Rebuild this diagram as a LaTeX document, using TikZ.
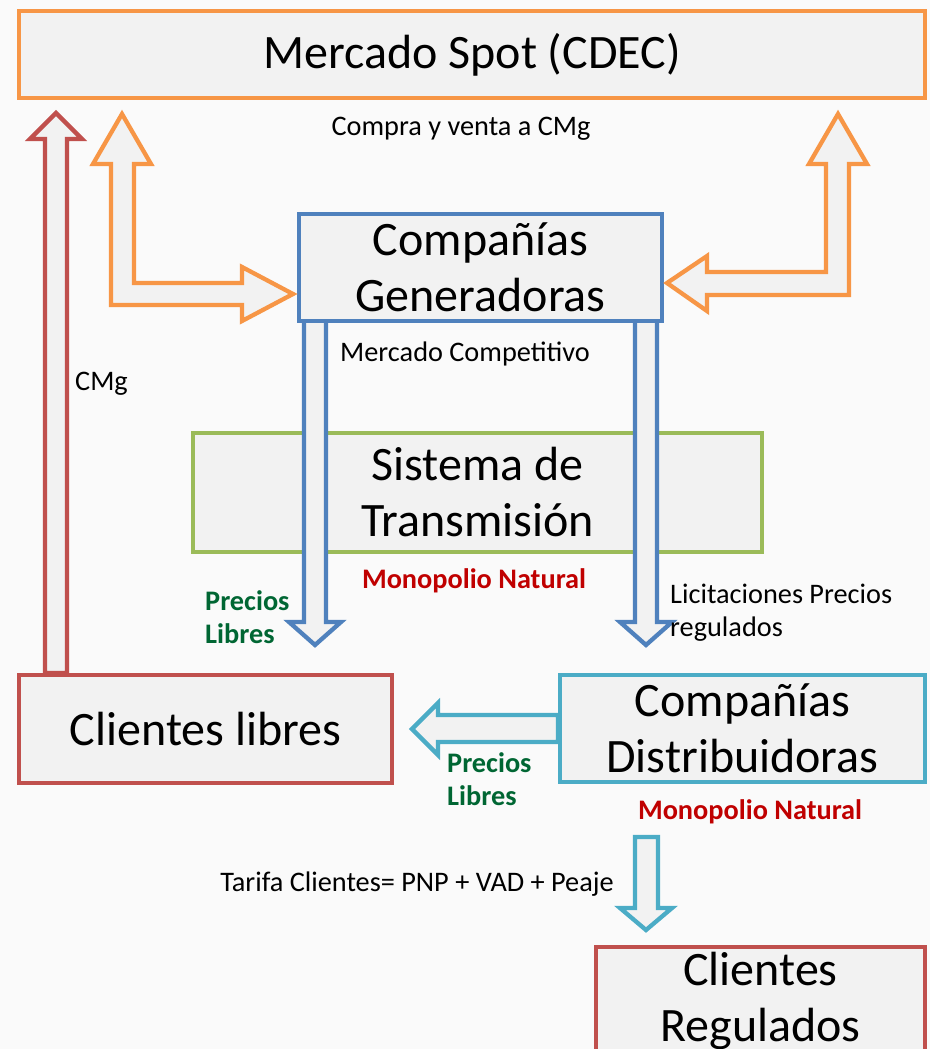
\documentclass[tikz,border=0pt]{standalone}
\usepackage{fontspec}
\setmainfont{Carlito}
\usetikzlibrary{positioning}
\definecolor{spotorange}{RGB}{247,150,70}
\definecolor{genblue}{RGB}{79,129,189}
\definecolor{transgreen}{RGB}{155,187,89}
\definecolor{clientred}{RGB}{192,80,77}
\definecolor{distcyan}{RGB}{75,172,198}
\definecolor{boxfill}{RGB}{242,242,242}
\definecolor{pagebg}{RGB}{250,250,250}
\definecolor{monored}{RGB}{192,0,0}
\definecolor{freegreen}{RGB}{0,102,51}

\begin{document}
\begin{tikzpicture}[x=1pt, y=-1pt,
    marketbox/.style={rectangle, fill=boxfill, line width=4.3pt, inner sep=0pt,
                 align=center, font=\fontsize{48}{56}\selectfont},
    fatarr/.style={fill=boxfill, line width=4.3pt, line join=miter},
    note/.style={inner sep=0pt, font=\fontsize{28.3}{33}\selectfont},
    monolabel/.style={inner sep=0pt, font=\fontsize{28.3}{33}\selectfont\bfseries, text=monored},
    freelabel/.style={inner sep=0pt, font=\fontsize{28.3}{33}\selectfont\bfseries, text=freegreen, align=left}
  ]
    \useasboundingbox (0,0) rectangle (930,1049);
    \fill[pagebg] (0,0) rectangle (930,1049);
    \clip (0,0) rectangle (930,1049);

    % transmission sits under the blue arrows
    \node[marketbox, draw=transgreen, minimum width=569, minimum height=119] (trans) at (477.5,492.5) {Sistema de\\Transmisión};

    % generators -> clients (blue)
    \draw[fatarr, draw=genblue] (304,310) -- (304,622) -- (289,622) -- (315,645) coordinate (freetip)
        -- (341,622) -- (326,622) -- (326,310) -- cycle;
    \draw[fatarr, draw=genblue] (635,310) -- (635,622) -- (620,622) -- (646,645) coordinate (regtip)
        -- (672,622) -- (657,622) -- (657,310) -- cycle;

    \node[marketbox, draw=spotorange, minimum width=906, minimum height=87] (spot) at (472,54.5) {Mercado Spot (CDEC)};
    \node[marketbox, draw=genblue, minimum width=363, minimum height=107] (gen) at (480.5,267.5) {Compañías\\Generadoras};
    \node[marketbox, draw=clientred, minimum width=373, minimum height=108] (libres) at (205.5,729) {Clientes libres};
    \node[marketbox, draw=distcyan, minimum width=365, minimum height=107] (dist) at (742.5,728.5) {Compañías\\Distribuidoras};
    \node[marketbox, draw=clientred, minimum width=329, minimum height=108] (reg) at (760.5,1001) {Clientes\\Regulados};

    % spot market <-> generators (orange)
    \draw[fatarr, draw=spotorange] (122,114) coordinate (spotleft) -- (151,164) -- (134,164) -- (134,283)
        -- (242,283) -- (242,267) -- (293,294) -- (242,321) -- (242,305) -- (111,305)
        -- (111,164) -- (93,164) -- cycle;
    \draw[fatarr, draw=spotorange] (838,114) coordinate (spotright) -- (867,164) -- (849,164) -- (849,295)
        -- (707,295) -- (707,311) -- (667,283) -- (707,256) -- (707,272) -- (826,272)
        -- (826,164) -- (809,164) -- cycle;

    % free clients pay CMg (red)
    \draw[fatarr, draw=clientred] (45,673) -- (45,139) -- (30,139) -- (56,113) coordinate (cmgtip)
        -- (82,139) -- (67,139) -- (67,673) -- cycle;

    % distributors -> clients (cyan)
    \draw[fatarr, draw=distcyan] (558,715) -- (438,715) -- (438,703) -- (412,729) coordinate (libtip)
        -- (438,755) -- (438,742) -- (558,742) -- cycle;
    \draw[fatarr, draw=distcyan] (635,837) -- (635,908) -- (620,908) -- (646,930) coordinate (rtip)
        -- (672,908) -- (658,908) -- (658,837) -- cycle;

    \node[note] (compra) at (461,129) {Compra y venta a CMg};
    \node[note] (comp) at (465,354) {Mercado Competitivo};
    \node[note, anchor=west] (cmg) at (75,384) {CMg};
    \node[monolabel] (mono1) at (474,581) {Monopolio Natural};
    \node[freelabel, anchor=west] (free1) at (205,617) {Precios\\Libres};
    \node[note, anchor=west, align=left] (licit) at (670,613) {Licitaciones Precios\\regulados};
    \node[freelabel, anchor=west] (free2) at (447,779) {Precios\\Libres};
    \node[monolabel] (mono2) at (750,812) {Monopolio Natural};
    \node[note] (tarifa) at (417,884) {Tarifa Clientes= PNP + VAD + Peaje};
  \end{tikzpicture}
\end{document}
